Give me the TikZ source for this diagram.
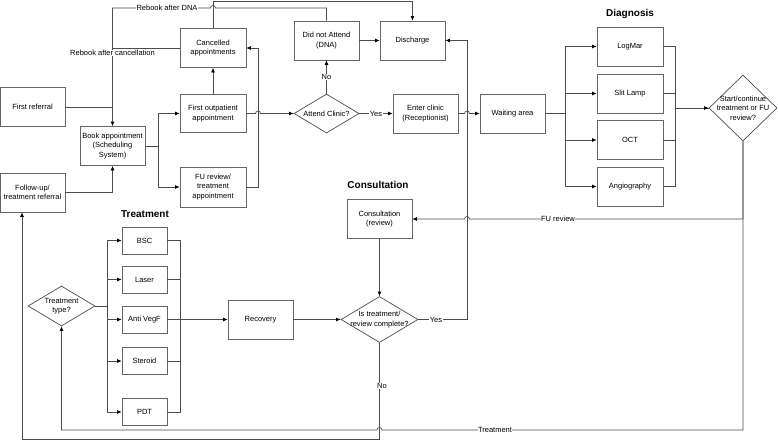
\documentclass[tikz,border=0pt]{standalone}
\usepackage{fontspec}
\setmainfont{Liberation Sans}
\usetikzlibrary{shapes.geometric,arrows.meta}
\begin{document}
\begin{tikzpicture}[x=1pt,y=-1pt,
    box/.style={draw=black!60,line width=0.7pt,align=center,inner sep=1pt,minimum width=65pt,minimum height=39pt},
    small/.style={box,minimum width=45pt,minimum height=27pt},
    decide/.style={diamond,draw=black!70,line width=0.7pt,inner sep=0pt},
    title/.style={font=\fontsize{10}{12}\selectfont\bfseries},
    line/.style={draw=black!70,line width=0.7pt},
    arr/.style={line,-{Latex[length=4.5pt,width=4pt,black]}},
    lbl/.style={fill=white,inner sep=0.5pt}]
    \fontsize{7.5}{9.5}\selectfont
    \useasboundingbox (0,0) rectangle (778,440);

    \node[box] (firstref) at (32.5,107) {First referral};
    \node[box] (followref) at (32.5,192.5) {Follow-up/\\treatment referral};
    \node[box] (book) at (112.5,146) {Book appointment\\(Scheduling\\System)};
    \node[box,minimum width=66pt] (cancel) at (213,48) {Cancelled\\appointments};
    \node[box,minimum width=66pt,minimum height=38pt] (firstop) at (213,113.5) {First outpatient\\appointment};
    \node[box,minimum width=66pt,minimum height=40pt] (fureview) at (213,187) {FU review/\\treatment\\appointment};
    \node[box] (dna) at (326.5,40.5) {Did not Attend\\(DNA)};
    \node[box] (discharge) at (412.5,40.5) {Discharge};
    \node[decide,minimum width=65pt,minimum height=39pt,label=center:Attend Clinic?] (attend) at (326.5,113.5) {};
    \node[box] (enter) at (425.5,113.5) {Enter clinic\\(Receptionist)};
    \node[box] (waiting) at (512.5,113.5) {Waiting area};

    \node[title] (diagtitle) at (630,14) {Diagnosis};
    \node[box,minimum width=66pt] (logmar) at (630,46.5) {LogMar};
    \node[box,minimum width=66pt] (slit) at (630,93.5) {Slit Lamp};
    \node[box,minimum width=66pt] (oct) at (630,140) {OCT};
    \node[box,minimum width=66pt] (angio) at (630,186.5) {Angiography};
    \node[decide,minimum width=68pt,minimum height=66pt,label={[align=center]center:Start/continue\\treatment or FU\\review?}] (start) at (743,108) {};

    \node[title] (consulttitle) at (378,185) {Consultation};
    \node[box] (consult) at (379.5,219) {Consultation\\(review)};
    \node[decide,minimum width=77pt,minimum height=46pt,label={[align=center]center:Is treatment/\\review complete?}] (complete) at (379.5,319.5) {};
    \node[box] (recovery) at (260.5,319.5) {Recovery};

    \node[title] (treattitle) at (145,214) {Treatment};
    \node[decide,minimum width=67pt,minimum height=40pt,label={[align=center]center:Treatment\\type?}] (treattype) at (61.5,306) {};
    \node[small] (bsc) at (144.5,240.5) {BSC};
    \node[small] (laser) at (144.5,279.5) {Laser};
    \node[small] (anti) at (144.5,319.5) {Anti VegF};
    \node[small] (steroid) at (144.5,361) {Steroid};
    \node[small] (pdt) at (144.5,412) {PDT};

    \draw[arr] (dna.north) -- (326.5,8) -- (215.5,8) arc (0:-180:2.5) -- (112.5,8) -- (book.north);
    \node[lbl] (lbldna) at (167,8) {Rebook after DNA};
    \draw[arr] (cancel.north) -- (213,1.5) -| (discharge.north);
    \draw[line] (cancel.west) -- (cancel.west -| book.north);
    \node[lbl] (lblcancel) at (112.5,53) {Rebook after cancellation};
    \draw[line] (firstref.east) -- (firstref.east -| book.north);
    \draw[arr] (followref.east) -| (book.south);
    \draw[arr] (book.east) -- (158,146) |- (firstop.west);
    \draw[arr] (book.east) -- (158,146) |- (fureview.west);
    \draw[arr] (firstop.north) -- (cancel.south);
    \draw[arr] (fureview.east) -- (258,187) |- (cancel.east);
    \draw[arr] (firstop.east) -- (255.5,113.5) arc (180:360:2.5) -- (attend.west);
    \draw[arr] (attend.north) -- node[lbl]{No} (dna.south);
    \draw[arr] (dna.east) -- (discharge.west);
    \draw[arr] (attend.east) -- node[lbl]{Yes} (enter.west);
    \draw[arr] (enter.east) -- (464.5,113.5) arc (180:360:2.5) -- (waiting.west);

    \draw[arr] (waiting.east) -- (565,113.5) |- (logmar.west);
    \draw[arr] (waiting.east) -- (565,113.5) |- (slit.west);
    \draw[arr] (waiting.east) -- (565,113.5) |- (oct.west);
    \draw[arr] (waiting.east) -- (565,113.5) |- (angio.west);
    \draw[line] (logmar.east) -- (675,46.5) |- (start.west);
    \draw[line] (slit.east) -- (675,93.5);
    \draw[line] (oct.east) -- (675,140);
    \draw[arr] (angio.east) -- (675,186.5) |- (start.west);

    \draw[arr] (start.south) -- (743,219) -- (469.5,219) arc (0:-180:2.5) -- (consult.east);
    \node[lbl] (lblfu) at (558,219) {FU review};
    \draw[arr] (start.south) -- (743,430) -- (382,430) arc (0:-180:2.5) -- (61.5,430) -- (treattype.south);
    \node[lbl] (lbltreat) at (495,430) {Treatment};
    \draw[arr] (consult.south) -- (complete.north);
    \draw[arr] (complete.east) -- (467,319.5) -- (467,40.5) -- (discharge.east);
    \node[lbl] (lblyes) at (436,319.5) {Yes};
    \draw[arr] (complete.south) -- (379.5,439) -- (22,439) -- (followref.south -| 22,0);
    \node[lbl] (lblno) at (382,386) {No};

    \draw[arr] (treattype.east) -- (107,306) |- (bsc.west);
    \draw[arr] (treattype.east) -- (107,306) |- (laser.west);
    \draw[arr] (treattype.east) -- (107,306) |- (anti.west);
    \draw[arr] (treattype.east) -- (107,306) |- (steroid.west);
    \draw[arr] (treattype.east) -- (107,306) |- (pdt.west);
    \draw[line] (bsc.east) -- (180,240.5) |- (pdt.east);
    \draw[line] (laser.east) -- (180,279.5);
    \draw[line] (steroid.east) -- (180,361);
    \draw[arr] (anti.east) -- (recovery.west);
    \draw[arr] (recovery.east) -- (complete.west);
\end{tikzpicture}
\end{document}
